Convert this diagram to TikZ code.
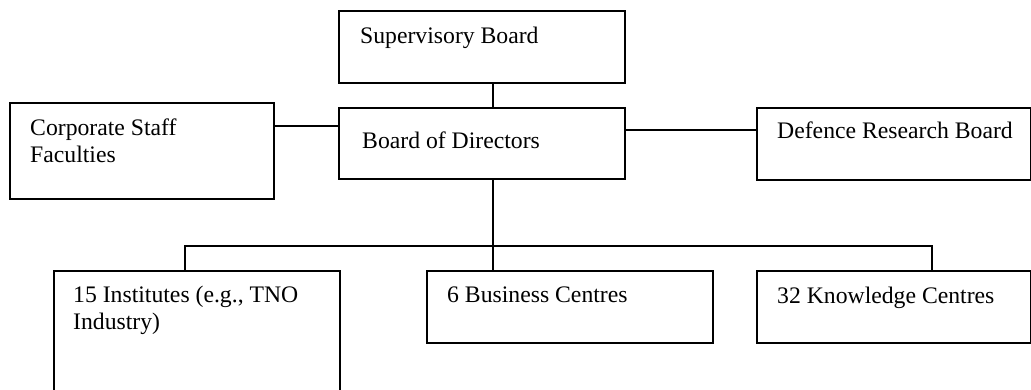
\documentclass[tikz,border=0pt]{standalone}
\usepackage{fontspec}
\setmainfont{Liberation Serif}
\begin{document}
\begin{tikzpicture}[x=1pt,y=-1pt,
  box/.style={draw, line width=1.8pt, rectangle, anchor=north west, inner sep=0pt},
  lbl/.style={anchor=base west, inner sep=0pt, align=left,
    font=\fontsize{23.7pt}{27pt}\selectfont},
  link/.style={line width=1.8pt}]
\clip (0,0) rectangle (1031,389);
\fill[white] (0,0) rectangle (1031,389);

% boxes
\node[box, minimum width=286pt, minimum height=72pt] (sup) at (338,10) {};
\node[box, minimum width=286pt, minimum height=71pt] (bod) at (338,107) {};
\node[box, minimum width=264pt, minimum height=96pt] (cs)  at (9,102) {};
\node[box, minimum width=274pt, minimum height=72pt] (drb) at (756,107) {};
\node[box, minimum width=286pt, minimum height=130pt] (ins) at (53,270) {};
\node[box, minimum width=286pt, minimum height=72pt] (bus) at (426,270) {};
\node[box, minimum width=274pt, minimum height=72pt] (kno) at (756,270) {};

% texts (base anchor of a two-line label sits on its last line)
\node[lbl] (supt) at (360,43) {Supervisory Board};
\node[lbl] (bodt) at (362,148) {Board of Directors};
\node[lbl] (cst)  at (30,162) {Corporate Staff\\Faculties};
\node[lbl] (drbt) at (777,138) {Defence Research Board};
\node[lbl] (inst) at (73,329) {15 Institutes (e.g., TNO\\Industry)};
\node[lbl] (bust) at (447,302) {6 Business Centres};
\node[lbl] (knot) at (777,303) {32 Knowledge Centres};

% connectors
\coordinate (busl) at (185,246);
\coordinate (busm) at (493,246);
\coordinate (busr) at (932,246);
\draw[link] (sup.south -| busm) -- (bod.north -| busm);
\draw[link] (cs.east |- 0,126) -- (bod.west |- 0,126);
\draw[link] (bod.east |- 0,130) -- (drb.west |- 0,130);
\draw[link] (bod.south -| busm) -- (bus.north -| busm);
\draw[link] (ins.north -| busl) -- (busl) -- (busr) -- (kno.north -| busr);
\end{tikzpicture}
\end{document}
